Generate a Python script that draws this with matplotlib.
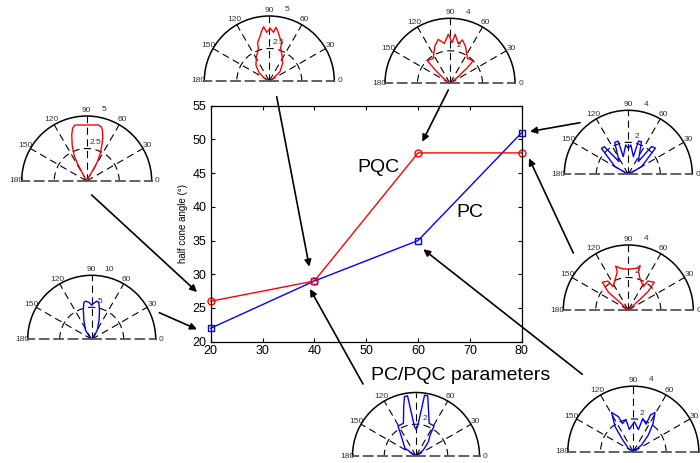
import numpy as np
import matplotlib
matplotlib.use("Agg")
import matplotlib.pyplot as plt

plt.rcParams['font.family'] = ['Liberation Sans', 'DejaVu Sans']

# main chart: half cone angle vs PC/PQC parameter
params = [20, 40, 60, 80]
pqc_angle = [26, 29, 48, 48]
pc_angle = [22, 29, 35, 51]
x_ticks = [20, 30, 40, 50, 60, 70, 80]
y_ticks = [20, 25, 30, 35, 40, 45, 50, 55]
theta_ticks = [0, 30, 60, 90, 120, 150, 180]
theta_labels = ['0', '30', '60', '90', '120', '150', '180']

# radiation patterns (angle in deg, radius)
pqc20_theta = [61, 61, 60, 61, 64, 67, 70, 73, 75, 78, 90, 102, 105, 108, 112, 116, 118, 118, 122, 122]
pqc20_r = [0, 0.53, 1.13, 1.70, 2.36, 3.0, 3.63, 4.11, 4.32, 4.40, 4.31, 4.40, 4.20, 3.72, 2.98, 2.22, 1.54, 0.81, 0.24, 0]

pc20_theta = [49, 49, 59, 69, 75, 79, 82, 86, 90, 94, 99, 102, 106, 112, 124, 131, 131]
pc20_r = [0, 0.55, 1.70, 3.21, 4.71, 5.86, 6.02, 5.71, 5.34, 5.77, 6.04, 5.88, 4.74, 3.25, 1.75, 0.55, 0]

pqc40_theta = [34, 34, 41, 53, 64, 71, 72, 77, 80, 83, 85, 89, 93, 96, 99, 102, 107, 109, 118, 130, 141, 153, 153]
pqc40_r = [0, 0.37, 1.09, 1.70, 2.22, 2.66, 3.10, 3.50, 3.86, 4.16, 3.76, 4.05, 3.75, 4.20, 3.85, 3.48, 3.08, 2.58, 2.11, 1.60, 1.02, 0.34, 0]

pqc60_theta = [39, 39, 42, 44, 55, 67, 74, 78, 84, 87, 92, 98, 105, 112, 124, 135, 138, 143, 143]
pqc60_r = [0, 0.66, 1.38, 1.99, 1.87, 2.45, 2.78, 2.48, 3.03, 2.51, 3.02, 2.48, 2.80, 2.48, 1.85, 1.97, 1.23, 0.51, 0]

pc80_theta = [30, 30, 44, 50, 52, 68, 73, 74, 85, 90, 95, 106, 107, 113, 126, 131, 136, 150, 150]
pc80_r = [0, 0.96, 2.36, 2.26, 1.01, 2.20, 2.17, 1.15, 1.84, 1.63, 1.84, 1.15, 2.17, 2.17, 0.98, 2.29, 2.33, 0.96, 0]

pqc80_theta = [42, 42, 43, 47, 56, 57, 70, 75, 75, 79, 90, 101, 106, 106, 114, 123, 125, 133, 138, 138, 138]
pqc80_r = [0, 0.83, 1.67, 2.34, 2.15, 1.71, 2.08, 2.44, 2.83, 2.62, 2.50, 2.62, 2.81, 2.45, 2.02, 1.71, 2.17, 2.34, 1.67, 0.83, 0]

pc40_theta = [39, 39, 49, 56, 59, 68, 76, 79, 82, 83, 87, 90, 93, 97, 98, 101, 104, 111, 121, 127, 145, 145]
pc40_r = [0, 0.60, 1.19, 1.59, 2.21, 2.22, 3.21, 3.86, 3.87, 3.14, 1.85, 1.68, 1.85, 3.14, 3.83, 3.81, 3.21, 2.21, 2.20, 1.52, 0.85, 0]

pc60_theta = [39, 39, 48, 55, 61, 65, 65, 74, 77, 88, 100, 103, 111, 113, 119, 126, 131, 146, 146]
pc60_r = [0, 0.65, 1.37, 2.11, 2.73, 2.47, 1.85, 2.11, 1.39, 1.83, 1.38, 2.02, 1.84, 2.32, 2.74, 1.89, 1.08, 0.37, 0]

W, H = 700, 463
fig = plt.figure(figsize=(W / 100, H / 100), dpi=100)

# --- main axes ---
ax = fig.add_axes([210.7 / W, (H - 341.7) / H, 311 / W, 236 / H])
ax.plot(params, pc_angle, color='#0000ff', lw=1.0, marker='s', ms=4.5,
        mfc='none', mew=1.0, clip_on=False)
ax.plot(params, pqc_angle, color='#ff0000', lw=1.0, marker='o', ms=5,
        mfc='none', mew=1.0, clip_on=False)
ax.set_xlim(20, 80)
ax.set_ylim(20, 55)
ax.set_xticks(x_ticks)
ax.set_yticks(y_ticks)
ax.tick_params(direction='in', top=True, right=True, length=3, width=0.8,
               labelsize=9)
ax.tick_params(axis='x', pad=2.5)
ax.tick_params(axis='y', pad=3)
for s in ax.spines.values():
    s.set_linewidth(0.9)
ax.set_ylabel('half cone angle (°)', fontsize=7, labelpad=3)
ax.text(52.3, 45.9, 'PQC', fontsize=14, ha='center', va='center')
ax.text(70, 39.1, 'PC', fontsize=14, ha='center', va='center')


# --- small polar plots ---
def polar_inset(cx, cy, R, theta, r, color, rmax, rlabels):
    ax_p = fig.add_axes([(cx - R) / W, (H - (cy + 0.5 * R)) / H, 2 * R / W, 2 * R / H],
                        projection='polar')
    ax_p.set_thetamin(0)
    ax_p.set_thetamax(180)
    ax_p.set_rlim(0, rmax)
    ax_p.set_rticks([rmax / 2])
    ax_p.set_yticklabels([])
    ax_p.set_thetagrids(theta_ticks, theta_labels)
    ax_p.grid(False)
    ax_p.yaxis.grid(True, color='k', lw=0.8, linestyle=(0, (6.5, 4)))
    ax_p.tick_params(axis='x', labelsize=6, labelcolor='#333333', pad=-3, length=0)
    ax_p.tick_params(axis='y', length=0)
    for a in theta_ticks[1:-1]:
        ax_p.plot([np.deg2rad(a)] * 2, [0, rmax], color='k', lw=0.8,
                  linestyle=(0, (6.5, 4)))
    ax_p.spines['polar'].set_color('k')
    ax_p.spines['polar'].set_linewidth(1.1)
    for side in ['start', 'end']:
        ax_p.spines[side].set_color('#555555')
        ax_p.spines[side].set_linewidth(1.3)
        ax_p.spines[side].set_linestyle((0, (5, 3)))
    ax_p.text(np.deg2rad(77), rmax * 0.6, rlabels[0], fontsize=6, color='#333333',
              ha='center', va='center')
    ax_p.text(np.deg2rad(76), rmax * 1.13, rlabels[1], fontsize=6, color='#333333',
              ha='center', va='center', clip_on=False)
    ax_p.plot(np.deg2rad(theta), r, color=color, lw=1.0)
    return ax_p


polar_inset(86.7, 181, 65, pqc20_theta, pqc20_r, '#ff0000', 5, ['2.5', '5'])
polar_inset(91.7, 339.3, 64, pc20_theta, pc20_r, '#0000ff', 10, ['5', '10'])
polar_inset(269.3, 81, 65, pqc40_theta, pqc40_r, '#ff0000', 5, ['2.5', '5'])
polar_inset(450, 83.3, 65, pqc60_theta, pqc60_r, '#ff0000', 4, ['2', '4'])
polar_inset(628.3, 174.3, 64, pc80_theta, pc80_r, '#0000ff', 4, ['2', '4'])
polar_inset(628.3, 310, 65, pqc80_theta, pqc80_r, '#ff0000', 4, ['2', '4'])
polar_inset(416, 456, 63.5, pc40_theta, pc40_r, '#0000ff', 4, ['2', '4'])
polar_inset(633.3, 451.7, 65.5, pc60_theta, pc60_r, '#0000ff', 4, ['2', '4'])

# --- overlay in pixel units for the arrows and the axis caption ---
ov = fig.add_axes([0, 0, 1, 1], zorder=10)
ov.set_xlim(0, W)
ov.set_ylim(H, 0)
ov.axis('off')
ov.patch.set_visible(False)

arrows = [
    ((91.7, 195), (197, 292)),
    ((159.3, 312.7), (197, 329.3)),
    ((276.7, 96.7), (309.3, 266.7)),
    ((448.3, 90), (422.3, 141.7)),
    ((580, 122.7), (530, 131.5)),
    ((573.3, 253), (529, 158.3)),
    ((363, 384), (310, 289)),
    ((582.3, 374.3), (423.3, 249.3)),
]
for start, tip in arrows:
    ov.annotate('', xy=tip, xytext=start,
                arrowprops=dict(arrowstyle='-|>', color='k', lw=1.2,
                                mutation_scale=10, shrinkA=0, shrinkB=0),
                zorder=4)

ov.text(371, 375, 'PC/PQC parameters', fontsize=14, ha='left', va='center',
        zorder=6, bbox=dict(boxstyle='square,pad=0.25', fc='white', ec='none'))

fig.savefig('out.png', dpi=100)
